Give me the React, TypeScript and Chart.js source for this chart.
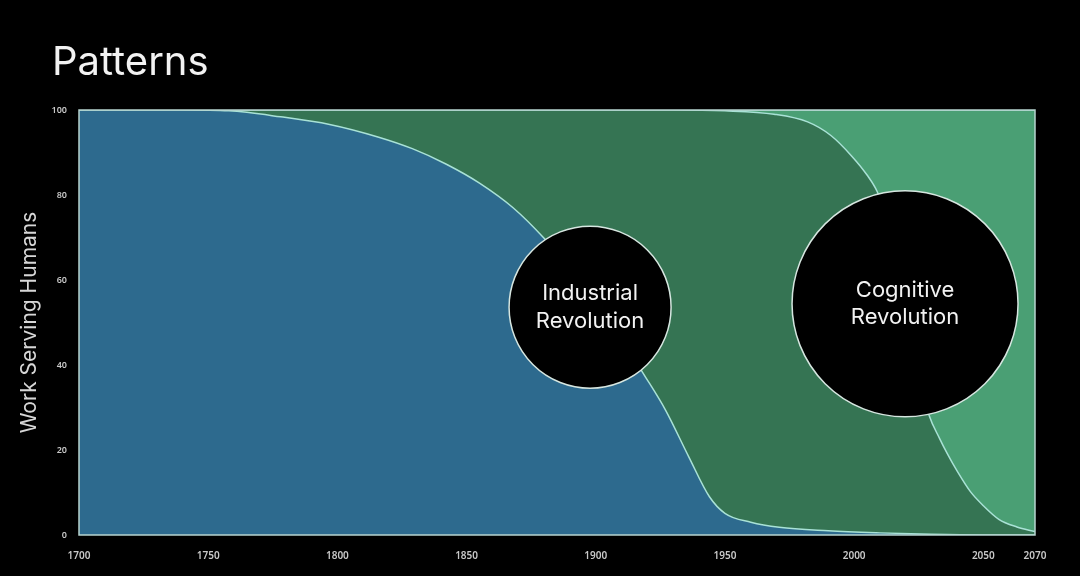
import { Chart, registerables } from "chart.js";
import { useEffect, useRef } from "react";

Chart.register(...registerables);

// blue band: share of physical work still done by humans
const laborYears = [1700, 1740, 1758, 1778, 1797, 1816, 1829, 1842, 1855, 1868, 1880, 1890, 1900, 1910, 1918, 1927, 1936, 1944, 1950, 1960, 1971, 1990, 2010, 2030, 2050, 2070];
const laborShare = [100, 100, 99.8, 98.4, 96.6, 93.6, 90.9, 87.3, 82.8, 77.0, 69.8, 62.5, 54.5, 46.3, 38.4, 29.4, 18.4, 9, 5.1, 3.0, 1.8, 1.0, 0.5, 0.15, 0, 0];

// dark green band: share of cognitive work still done by humans
const cognitionYears = [1700, 1930, 1950, 1969, 1982, 1991, 1999, 2005, 2009, 2013, 2017, 2021, 2025, 2029, 2033, 2036, 2040, 2045, 2050, 2056, 2063, 2070];
const cognitionShare = [100, 100, 99.8, 99.0, 97.2, 94, 89.2, 84.7, 80.7, 74, 63, 50, 37.5, 28.2, 22.8, 19.2, 14.9, 10.2, 6.9, 3.7, 1.9, 0.8];

// light green band: everything
const totalYears = [1700, 2070];
const totalShare = [100, 100];

const revolutionNames = [
  ["Industrial", "Revolution"],
  ["Cognitive", "Revolution"],
];
const revolutionYears = [1897.8, 2019.7];
const revolutionLevels = [53.6, 54.4];

const xTickYears = [1700, 1750, 1800, 1850, 1900, 1950, 2000, 2050, 2070];

const circleRadii = [81, 113];
const curveColor = "#a9e2d6";

const toPoints = (xs: number[], ys: number[]) => xs.map((x, i) => ({ x, y: ys[i] }));

const frame = {
  id: "frame",
  afterDatasetsDraw(chart: Chart) {
    const { ctx, chartArea: a } = chart;
    ctx.save();
    ctx.strokeStyle = "#b7d4cf";
    ctx.lineWidth = 1.5;
    ctx.strokeRect(a.left, a.top, a.right - a.left, a.bottom - a.top);
    ctx.restore();
  },
};

const circleLabels = {
  id: "circleLabels",
  afterDraw(chart: Chart) {
    const meta = chart.getDatasetMeta(3);
    const ctx = chart.ctx;
    ctx.save();
    ctx.fillStyle = "#f2f2f2";
    ctx.font = "400 22px Inter";
    ctx.textAlign = "center";
    ctx.textBaseline = "middle";
    meta.data.forEach((el: any, i: number) => {
      const lines = revolutionNames[i];
      lines.forEach((line, j) => {
        ctx.fillText(line, el.x, el.y + (j - (lines.length - 1) / 2) * 27.5);
      });
    });
    ctx.restore();
  },
};

export default function App() {
  const canvasRef = useRef<HTMLCanvasElement>(null);

  useEffect(() => {
    if (!canvasRef.current) return;

    const line = (data: { x: number; y: number }[], color: string) => ({
      type: "line" as const,
      data,
      fill: "origin",
      backgroundColor: color,
      borderColor: curveColor,
      borderWidth: 1.5,
      pointRadius: 0,
      cubicInterpolationMode: "monotone" as const,
      order: 1,
    });

    const chart = new Chart(canvasRef.current, {
      type: "line",
      data: {
        datasets: [
          line(toPoints(laborYears, laborShare), "#2d6a8e"),
          line(toPoints(cognitionYears, cognitionShare), "#357453"),
          line(toPoints(totalYears, totalShare), "#4a9f74"),
          {
            type: "bubble",
            data: toPoints(revolutionYears, revolutionLevels),
            backgroundColor: "#000000",
            borderColor: "#d6e6e0",
            borderWidth: 1.5,
            radius: (c: any) => circleRadii[c.dataIndex],
            order: 0,
          } as any,
        ],
      },
      options: {
        animation: false,
        responsive: true,
        maintainAspectRatio: false,
        layout: { autoPadding: false, padding: { left: 0, right: 45, top: 110, bottom: 0 } },
        plugins: {
          legend: { display: false },
          tooltip: { enabled: false },
        },
        scales: {
          x: {
            type: "linear",
            min: 1700,
            max: 2070,
            grid: { display: false, drawTicks: false },
            border: { display: false },
            afterBuildTicks: (scale: any) => {
              scale.ticks = xTickYears.map((value) => ({ value }));
            },
            afterFit: (scale: any) => {
              scale.height = 41;
            },
            ticks: {
              autoSkip: false,
              maxRotation: 0,
              padding: 15,
              color: "#c8c8c8",
              font: { family: "'Noto Sans'", size: 10, weight: 600 },
              callback: (v: any) => String(v),
            },
          },
          y: {
            min: 0,
            max: 100,
            grid: { display: false, drawTicks: false },
            border: { display: false },
            afterFit: (scale: any) => {
              scale.width = 79;
            },
            ticks: {
              stepSize: 20,
              padding: 12,
              color: "#c8c8c8",
              font: { family: "'Noto Sans'", size: 9, weight: 600 },
            },
            title: {
              display: true,
              text: "Work Serving Humans",
              color: "#d6d6d6",
              font: { family: "Inter", size: 21, weight: 400 },
              padding: { top: 17, bottom: 0 },
            },
          },
        },
      },
      plugins: [frame, circleLabels],
    });

    return () => chart.destroy();
  }, []);

  return (
    <div style={{ position: "relative", width: 1080, height: 576, background: "#000" }}>
      <style>{"body{margin:0;background:#000}"}</style>
      <div
        style={{
          position: "absolute",
          left: 52,
          top: 41,
          fontFamily: "Inter",
          fontSize: 40,
          lineHeight: "40px",
          color: "#f2f2f2",
          fontWeight: 400,
        }}
      >
        Patterns
      </div>
      <canvas ref={canvasRef} />
    </div>
  );
}
